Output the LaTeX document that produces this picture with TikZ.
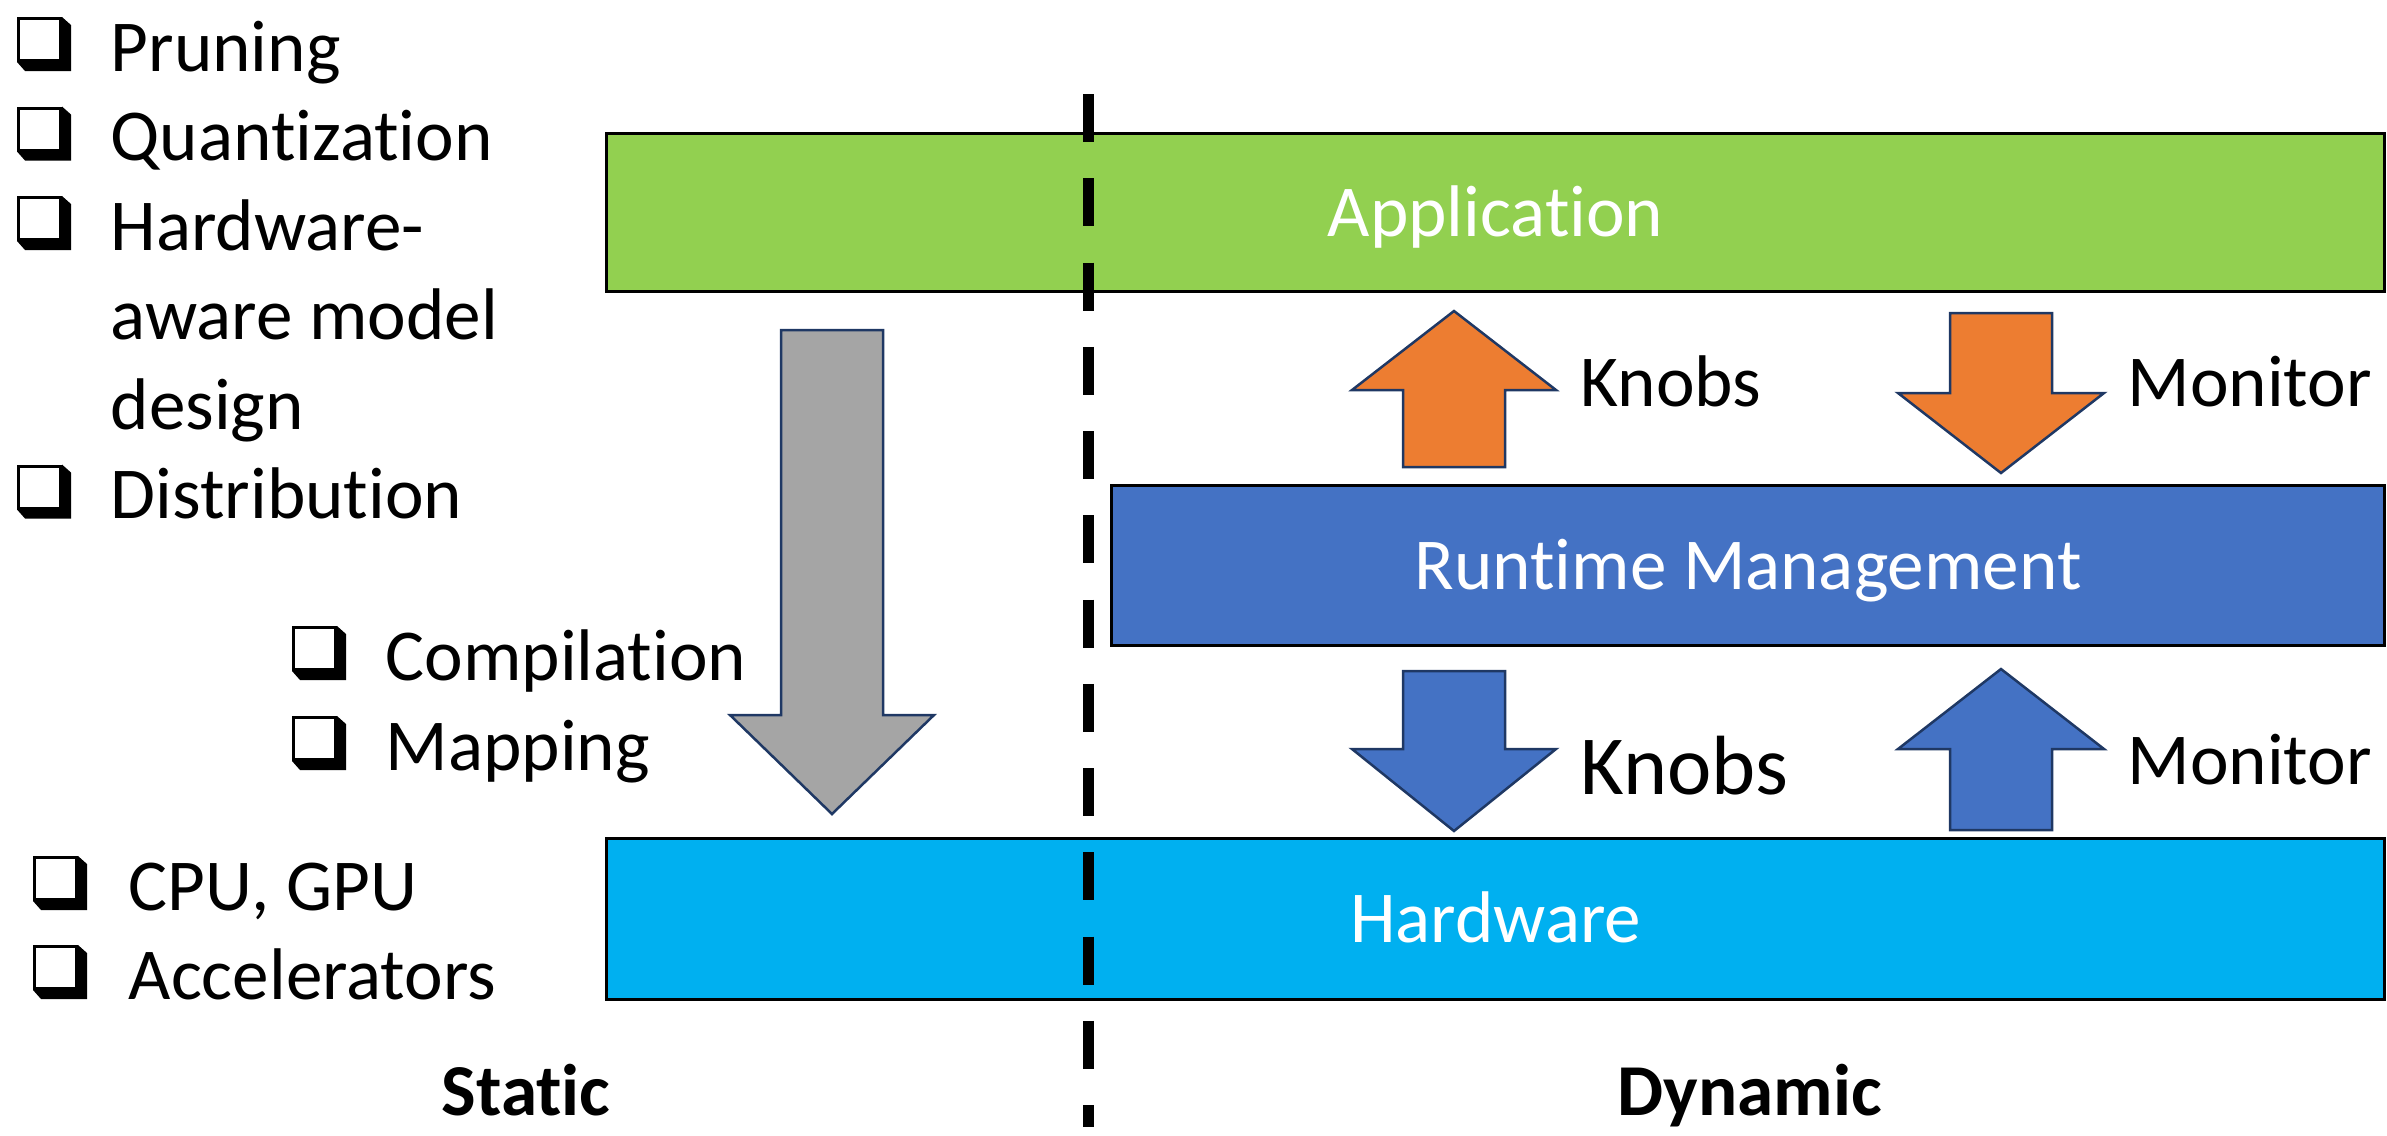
\documentclass[tikz,border=0pt]{standalone}
\usepackage{fontspec}
\setmainfont{Carlito}[Ligatures={NoCommon,NoContextual}]

\definecolor{appgreen}{HTML}{92D050}
\definecolor{rtblue}{HTML}{4472C4}
\definecolor{hwblue}{HTML}{00B0F0}
\definecolor{knoborange}{HTML}{ED7D31}
\definecolor{flowgray}{HTML}{A5A5A5}
\definecolor{arrowedge}{HTML}{1F3864}

% block arrow: style, centre x, base y, shoulder y, tip y, half shaft, half head
\newcommand\blockarrow[7]{%
  \draw[#1] (#2-#6,#3) -- (#2-#6,#4) -- (#2-#7,#4) -- (#2,#5)
    -- (#2+#7,#4) -- (#2+#6,#4) -- (#2+#6,#3) -- cycle;}

\tikzset{
  txt/.style={font=\fontsize{20.8pt}{25pt}\selectfont},
  lbl/.style={txt, anchor=base west, inner sep=0pt},
  layer/.style={txt, draw=black, line width=0.03cm, text=white,
    inner sep=0pt, text height=0.47cm, text depth=0pt},
  blk/.style={draw=arrowedge, line width=0.025cm, line join=miter},
  chk/.pic={
    \draw[line width=0.03cm] (1.5,1.5) rectangle (43.5,43.5);
    \fill (45,0) -- (54,8) -- (54,54) -- (8,54) -- (0,45) -- (45,45) -- cycle;
  },
}

\begin{document}
\begin{tikzpicture}[x=0.01cm, y=-0.01cm]
\useasboundingbox (0,0) rectangle (2387,1135);

% layers
\node[layer, fill=appgreen, minimum width=17.77cm, minimum height=1.57cm]
  (app) at (1495.5,212.5) {Application};
\node[layer, fill=rtblue, minimum width=12.72cm, minimum height=1.59cm]
  (rt) at (1748,565.5) {Runtime Management};
\node[layer, fill=hwblue, minimum width=17.77cm, minimum height=1.60cm]
  (hw) at (1495.5,919) {Hardware};

% static flow arrow
\blockarrow{blk, fill=flowgray}{832}{330}{715}{814}{51}{102}

% knobs / monitor arrows
\blockarrow{blk, fill=knoborange}{1454}{467}{390}{311}{51}{102}
\blockarrow{blk, fill=knoborange}{2001}{313}{393}{473}{51}{103}
\blockarrow{blk, fill=rtblue}{1454}{671}{749}{831}{51}{102}
\blockarrow{blk, fill=rtblue}{2001}{830}{749}{669}{51}{103}

\node[lbl] (k1) at (1580,406) {Knobs};
\node[lbl] (m1) at (2127,406) {Monitor};
\node[lbl, font=\fontsize{23.9pt}{28pt}\selectfont] (k2) at (1580,794) {Knobs};
\node[lbl] (m2) at (2127,784) {Monitor};

% design-time techniques
\pic at (17,17) {chk};
\node[lbl] (prune) at (110,71) {Pruning};
\pic at (17,106.5) {chk};
\node[lbl] (quant) at (110,160.5) {Quantization};
\pic at (17,196) {chk};
\node[lbl] (hwa1) at (110,250) {Hardware-};
\node[lbl] (hwa2) at (110,339.5) {aware model};
\node[lbl] (hwa3) at (110,429) {design};
\pic at (17,464.5) {chk};
\node[lbl] (dist) at (110,518.5) {Distribution};

\pic at (292,626) {chk};
\node[lbl] (comp) at (385,680) {Compilation};
\pic at (292,716) {chk};
\node[lbl] (map) at (385,770) {Mapping};

\pic at (33,856) {chk};
\node[lbl] (cpu) at (128,910) {CPU, GPU};
\pic at (33,945) {chk};
\node[lbl] (acc) at (128,999) {Accelerators};

% static / dynamic split
\coordinate (splittop) at (1088,94);
\coordinate (splitbot) at (1088,1127);
\draw[line width=0.11cm, dash pattern=on 0.48cm off 0.362cm] (splittop) -- (splitbot);

\node[lbl, font=\fontsize{20.8pt}{25pt}\selectfont\bfseries] (static) at (441,1115) {Static};
\node[lbl, font=\fontsize{20.8pt}{25pt}\selectfont\bfseries] (dynamic) at (1617,1115) {Dynamic};
\end{tikzpicture}
\end{document}
